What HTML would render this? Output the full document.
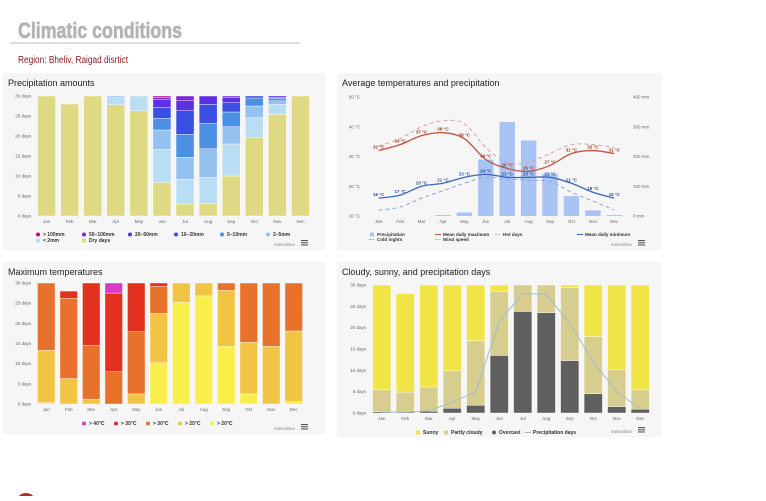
<!DOCTYPE html>
<html><head><meta charset="utf-8">
<style>
body{margin:0;background:#fff;width:766px;height:496px;overflow:hidden;font-family:"Liberation Sans",sans-serif}
svg text{font-family:"Liberation Sans",sans-serif}
</style></head>
<body>
<svg id="s" width="766" height="496" viewBox="0 0 766 496" xmlns="http://www.w3.org/2000/svg">
<text x="18" y="38" font-family="Liberation Sans Narrow, Liberation Sans, sans-serif" font-weight="bold" font-size="22" fill="#b3b3b3" stroke="#b3b3b3" stroke-width="0.6" textLength="164" lengthAdjust="spacingAndGlyphs">Climatic conditions</text>
<line x1="10" y1="43" x2="300" y2="43" stroke="#bdbdbd" stroke-width="1"/>
<text x="18" y="63" font-size="10" fill="#8b1a1a" textLength="110" lengthAdjust="spacingAndGlyphs">Region: Bheliv, Raigad disrtict</text>
<circle cx="26" cy="503" r="10" fill="#b02a2a"/>
</svg>
<script>
const months=['Jan','Feb','Mar','Apr','May','Jun','Jul','Aug','Sep','Oct','Nov','Dec'];
// Chart 1: precipitation amounts (days)
const p1Dry=[31,28,31,27.8,26.3,8.4,3,3.2,10,19.6,25.4,31];
const p1Lt2=[0,0,0,1.8,4.4,8.3,6.2,6.5,8,5,2.5,0];
const p1To5=[0,0,0,0.4,0.3,4.8,5.5,7.1,4.3,2.9,0.9,0];
const p1To10=[0,0,0,0,0,2.9,5.7,6.4,3.7,2,0.6,0];
const p1To20=[0,0,0,0,0,2.7,5.9,4.7,2.3,1.5,0.3,0];
const p1To50=[0,0,0,0,0,2.1,2.5,3.1,1.4,0,0.3,0];
const p1To100=[0,0,0,0,0,0.5,2.2,0,0.3,0,0,0];
const p1Gt100=[0,0,0,0,0,0.3,0,0,0,0,0,0];
// Chart 2: average temps & precipitation
const tMax=[32,34,37,38,36,29,26,25,27,31,32,31];
const tMin=[16,17,20,21,23,24,23,23,23,21,18,16];
const tHot=[33.5,36,40,42,41,33,28,28,31,34,34,33];
const tCold=[12,13,16,18.5,21,23,22.5,22,21.5,18,15,12];
const precipMm=[0,0,0,3,12,190,316,254,142,67,19,3];
const tTicks=[10,20,30,40,50];
const mmTicks=[0,100,200,300,400];
// Chart 3: maximum temperatures (days)
const mx20=[0.3,0,0,0,0,10.2,25.2,26.8,14.3,2.5,0,0.6];
const mx25=[13,6.3,1.2,0,2.5,12.3,5.8,4.2,13.9,12.8,14.3,17.5];
const mx30=[17.7,19.9,13.3,8,15.4,6.7,0,0,1.8,15.7,15.7,12.9];
const mx35=[0,1.8,16.5,19.5,13.1,0.8,0,0,0,0,0,0];
const mx40=[0,0,0,2.5,0,0,0,0,0,0,0,0];
// Chart 4: cloudy / sunny / precip days
const cOver=[0.3,0.3,0.4,1.1,1.8,13.5,23.8,23.5,12.3,4.5,1.5,0.9];
const cPart=[5.2,4.6,5.7,8.8,15.1,14.9,7.2,7.5,17.1,13.4,8.7,4.6];
const cSun=[25.5,23.1,24.9,20.1,14.1,1.6,0,0,0.6,13.1,19.8,25.5];
const cPrecDays=[0.2,0.2,0.5,2.5,5,21.5,28,27.8,21,12,5,1];
const dayTicks=[0,5,10,15,20,25,30];

const S=document.getElementById('s');
const NS='http://www.w3.org/2000/svg';
function mk(tag,attrs,parent){const e=document.createElementNS(NS,tag);for(const k in attrs)e.setAttribute(k,attrs[k]);(parent||S).appendChild(e);return e;}
function txt(x,y,s,size,fill,anchor,parent,weight){const t=mk('text',{x:x,y:y,'font-size':size,fill:fill,'text-anchor':anchor||'start','font-weight':weight||'normal'},parent);t.textContent=s;return t;}

function panel(x,y,w,h,title,name){
  const g=mk('g',{});
  
  
  const r=mk('rect',{x:x,y:y,width:w,height:h,fill:'#f6f6f6'},g);
  
  
  const t=txt(x+5,y+13,title,9,'#222','start',g);
  
  
  const m=txt(x+w-30,y+h-4,'meteoblue',4.5,'#888','end',g);
  
  
  const b=mk('g',{},g);
  
  
  for(let i=0;i<3;i++)mk('rect',{x:x+w-24,y:y+h-10+i*2.2,width:7,height:1.1,fill:'#555'},b);
  return g;
}

function stacked(g,L,R,T,B,series,colors,maxV,names,ticks,tickFmt){
  const sy=v=>B-(v/maxV)*(B-T);
  const cw=(R-L)/12, bw=cw*0.78;
  ticks.forEach(t=>{
    const tl=txt(L-4,sy(t)+1.5,tickFmt(t),4.5,'#666','end',g);
    
    
  });
  months.forEach((m,i)=>{
    const cx=L+cw*(i+0.5);
    let acc=0;
    series.forEach((arr,si)=>{
      const v=arr[i];if(v<=0)return;
      const y0=sy(Math.min(acc,maxV)),y1=sy(Math.min(acc+v,maxV));acc+=v;
      if(y0-y1<=0)return;
      const r=mk('rect',{x:cx-bw/2,y:y1,width:bw,height:y0-y1,fill:colors[si],stroke:'#fff','stroke-width':0.4},g);
      
      
    });
    const xl=txt(cx,B+7,m,4.5,'#666','middle',g);
    
    
  });
  return {sy:sy,cw:cw};
}

function legend(g,items,x,y,gap,fs){
  let cx=x,cy=y;
  items.forEach(it=>{
    const lg=mk('g',{},g);
    
    
    if(it.line){mk('line',{x1:cx-3,y1:cy-1.5,x2:cx+3,y2:cy-1.5,stroke:it.c,'stroke-width':1,'stroke-dasharray':it.dash||''},lg);}
    else if(it.sq){mk('rect',{x:cx-2,y:cy-3.5,width:4,height:4,fill:it.c},lg);}
    else mk('circle',{cx:cx,cy:cy-1.5,r:2,fill:it.c},lg);
    txt(cx+5,cy,it.t,fs||5,'#333','start',lg,'bold');
    cx+=it.w||gap;
  });
}

// ---- Chart 1
{
const g=panel(3,73,322,177,'Precipitation amounts','precipitation-amounts-chart');
const cols=['#dfd984','#b9def4','#93c2f1','#4d8fe3','#3b4fe2','#5a32e0','#7b2ad6','#b0117a'];
const names=['dry','lt2mm','2-5mm','5-10mm','10-20mm','20-50mm','50-100mm','gt100mm'];
stacked(g,35,312,96,216,[p1Dry,p1Lt2,p1To5,p1To10,p1To20,p1To50,p1To100,p1Gt100],cols,30,names,dayTicks,t=>t+' days');
legend(g,[{t:'> 100mm',c:cols[7],w:46},{t:'50–100mm',c:cols[6],w:46},{t:'20–50mm',c:cols[5],w:46},{t:'10–20mm',c:cols[4],w:46},{t:'5–10mm',c:cols[3],w:46},{t:'2–5mm',c:cols[2],w:46}],38,236);
legend(g,[{t:'< 2mm',c:cols[1],sq:1,w:46},{t:'Dry days',c:cols[0],sq:1,w:46}],38,242);
}

// ---- Chart 2
{
const g=panel(337,73,325,177,'Average temperatures and precipitation','avg-temp-precip-chart');
const L=368,R=625,T=97,B=216;
const ty=v=>B-(v-10)/40*(B-T);
const my=v=>B-v/400*(B-T);
const cw=(R-L)/12;
tTicks.forEach(t=>{const l=txt(L-8,ty(t)+1.5,t+' °C',4.5,'#666','end',g);});
mmTicks.forEach(t=>{const l=txt(R+8,my(t)+1.5,t+' mm',4.5,'#666','start',g);});
months.forEach((m,i)=>{
  const cx=L+cw*(i+0.5);
  if(precipMm[i]>0){const r=mk('rect',{x:cx-cw*0.36,y:my(precipMm[i]),width:cw*0.72,height:B-my(precipMm[i]),fill:'#a8c4f4'},g);
  }
  const xl=txt(cx,B+7,m,4.5,'#666','middle',g);
});
function smooth(arr){
  const pts=arr.map((v,i)=>[L+cw*(i+0.5),ty(v)]);
  let d='M'+pts[0][0]+','+pts[0][1];
  for(let i=0;i<pts.length-1;i++){
    const p0=pts[Math.max(0,i-1)],p1=pts[i],p2=pts[i+1],p3=pts[Math.min(pts.length-1,i+2)];
    const c1=[p1[0]+(p2[0]-p0[0])/6,p1[1]+(p2[1]-p0[1])/6],c2=[p2[0]-(p3[0]-p1[0])/6,p2[1]-(p3[1]-p1[1])/6];
    d+=' C'+c1+' '+c2+' '+p2;
  }
  return d;
}
const hot=mk('path',{d:smooth(tHot),fill:'none',stroke:'#e0a0a0','stroke-width':1,'stroke-dasharray':'4,3'},g);

const cold=mk('path',{d:smooth(tCold),fill:'none',stroke:'#8aaad8','stroke-width':1,'stroke-dasharray':'4,3'},g);

const mx=mk('path',{d:smooth(tMax),fill:'none',stroke:'#c4503e','stroke-width':1.3},g);

const mn=mk('path',{d:smooth(tMin),fill:'none',stroke:'#3c66bf','stroke-width':1.3},g);

months.forEach((m,i)=>{
  const cx=L+cw*(i+0.5);
  const a=txt(cx,ty(tMax[i])-2,tMax[i]+' °C',4.5,'#a03a2a','middle',g,'bold');
  const b=txt(cx,ty(tMin[i])-2,tMin[i]+' °C',4.5,'#2e4f9c','middle',g,'bold');
});
legend(g,[{t:'Precipitation',c:'#a8c4f4',sq:1,w:66},{t:'Mean daily maximum',c:'#c4503e',line:1,w:60},{t:'Hot days',c:'#e0a0a0',line:1,dash:'2,1',w:82},{t:'Mean daily minimum',c:'#3c66bf',line:1,w:60}],372,236,0,4.6);
legend(g,[{t:'Cold nights',c:'#8aaad8',line:1,dash:'2,1',w:66},{t:'Wind speed',c:'#ccc',line:1,w:60}],372,241,0,4.6);
}

// ---- Chart 3
{
const g=panel(3,262,322,172,'Maximum temperatures','max-temperatures-chart');
const cols=['#f8ef4a','#f1c443','#e8712b','#e2321f','#d93cc2'];
const names=['gt20','gt25','gt30','gt35','gt40'];
stacked(g,35,305,283,404,[mx20,mx25,mx30,mx35,mx40],cols,30,names,dayTicks,t=>t+' days');
legend(g,[{t:'> 40°C',c:cols[4],w:32},{t:'> 35°C',c:cols[3],w:32},{t:'> 30°C',c:cols[2],w:32},{t:'> 25°C',c:cols[1],w:32},{t:'> 20°C',c:cols[0],w:32}],84,425);
}

// ---- Chart 4
{
const g=panel(337,262,325,175,'Cloudy, sunny, and precipitation days','cloud-sun-precip-chart');
const cols=['#5f5f5f','#d7cd8f','#f0e446'];
const L=370,R=652,T=285,B=413;
const r=stacked(g,L,R,T,B,[cOver,cPart,cSun],cols,30,['overcast','partly-cloudy','sunny'],dayTicks,t=>t+' days');
const pts=cPrecDays.map((v,i)=>(L+r.cw*(i+0.5))+','+r.sy(v)).join(' ');
const pl=mk('polyline',{points:pts,fill:'none',stroke:'#9fbdd0','stroke-width':1},g);

legend(g,[{t:'Sunny',c:cols[2],sq:1,w:28},{t:'Partly cloudy',c:cols[1],sq:1,w:48},{t:'Overcast',c:cols[0],w:34},{t:'Precipitation days',c:'#9fbdd0',line:1,w:60}],418,434);
}
</script>
</body></html>
